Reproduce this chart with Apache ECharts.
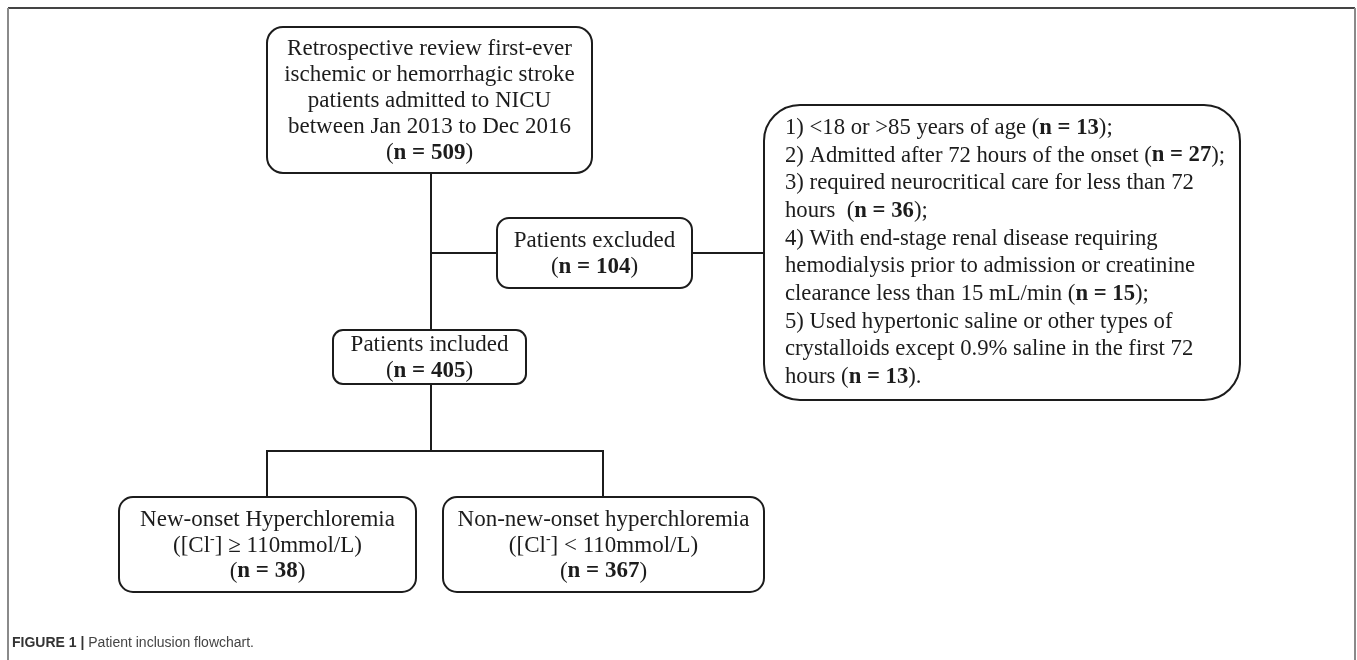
<!DOCTYPE html>
<html>
<head>
<meta charset="utf-8">
<script src="https://cdn.jsdelivr.net/npm/echarts@6/dist/echarts.min.js"></script>
<style>
  html, body { margin: 0; padding: 0; background: #fff; }
  #chart { width: 1357px; height: 660px; }
</style>
</head>
<body>
<div id="chart"></div>
<script>
// flowchart content
const stageLabels = [
  "Retrospective review first-ever\nischemic or hemorrhagic stroke\npatients admitted to NICU\nbetween Jan 2013 to Dec 2016",
  "Patients excluded",
  "Patients included",
  "New-onset Hyperchloremia\n([Cl{-}] \u2265 110mmol/L)",
  "Non-new-onset hyperchloremia\n([Cl{-}] < 110mmol/L)"
];
const stageCounts = [509, 104, 405, 38, 367];

const exclusionReasons = [
  "1) <18 or >85 years of age (#);",
  "2) Admitted after 72 hours of the onset (#);",
  "3) required neurocritical care for less than 72\nhours  (#);",
  "4) With end-stage renal disease requiring\nhemodialysis prior to admission or creatinine\nclearance less than 15 mL/min (#);",
  "5) Used hypertonic saline or other types of\ncrystalloids except 0.9% saline in the first 72\nhours (#)."
];
const exclusionCounts = [13, 27, 36, 15, 13];

const captionBold = "FIGURE 1 |";
const captionText = "Patient inclusion flowchart.";

// box layout: [x, y, w, h, radius]
const boxes = [
  [267, 27, 325, 146, 16],
  [497, 218, 195, 70, 12],
  [333, 330, 193, 54, 10],
  [119, 497, 297, 95, 14],
  [443, 497, 321, 95, 14]
];
const bigBox = [764, 105, 476, 295, 36];

const serif = "'Liberation Serif', 'Times New Roman', serif";
const ink = "#1c1c1c";

function esc(s) {
  return s.replace(/\{-\}/g, "\u0001");
}

function lineToRich(line) {
  // superscript minus
  const parts = line.split("\u0001");
  let out = "";
  parts.forEach((p, i) => {
    if (p) out += "{r|" + p + "}";
    if (i < parts.length - 1) out += "{sup|-}";
  });
  return out;
}

function stageRich(i) {
  const lines = esc(stageLabels[i]).split("\n").map(lineToRich);
  lines.push("{r|(}{b|n = " + stageCounts[i] + "}{r|)}");
  return lines.join("\n");
}

function reasonsRich() {
  const out = [];
  exclusionReasons.forEach((reason, k) => {
    reason.split("\n").forEach(line => {
      const parts = line.split("#");
      let s = "{r|" + parts[0] + "}";
      if (parts.length > 1) {
        s += "{b|n = " + exclusionCounts[k] + "}";
        if (parts[1]) s += "{r|" + parts[1] + "}";
      }
      out.push(s);
    });
  });
  return out.join("\n");
}

function richStyles(fs, lh) {
  return {
    r: { fontFamily: serif, fontSize: fs, lineHeight: lh, fill: ink },
    b: { fontFamily: serif, fontSize: fs, fontWeight: "bold", lineHeight: lh, fill: ink },
    sup: { fontFamily: serif, fontSize: 14, lineHeight: lh, fill: ink, verticalAlign: "top" }
  };
}

const elements = [];

// figure frame
elements.push({ type: "line", shape: { x1: 8, y1: 8, x2: 1355, y2: 8 }, style: { stroke: "#444", lineWidth: 2 } });
elements.push({ type: "line", shape: { x1: 8, y1: 8, x2: 8, y2: 660 }, style: { stroke: "#8a8a8a", lineWidth: 2 } });
elements.push({ type: "line", shape: { x1: 1355, y1: 8, x2: 1355, y2: 660 }, style: { stroke: "#8a8a8a", lineWidth: 2 } });

// connectors
const connectors = [
  [[431, 173], [431, 330]],
  [[431, 253], [497, 253]],
  [[692, 253], [764, 253]],
  [[431, 384], [431, 451]],
  [[267, 497], [267, 451], [603, 451], [603, 497]]
];
connectors.forEach(pts => {
  elements.push({ type: "polyline", shape: { points: pts }, style: { stroke: ink, lineWidth: 2, fill: null } });
});

// stage boxes
boxes.forEach((b, i) => {
  elements.push({
    type: "rect",
    shape: { x: b[0], y: b[1], width: b[2], height: b[3], r: b[4] },
    style: { fill: "#fff", stroke: ink, lineWidth: 2 }
  });
  elements.push({
    type: "text",
    x: b[0] + b[2] / 2,
    y: b[1] + b[3] / 2 + 1,
    style: {
      text: stageRich(i),
      align: "center",
      verticalAlign: "middle",
      rich: richStyles(23, 26)
    }
  });
});

// exclusion details box
elements.push({
  type: "rect",
  shape: { x: bigBox[0], y: bigBox[1], width: bigBox[2], height: bigBox[3], r: bigBox[4] },
  style: { fill: "#fff", stroke: ink, lineWidth: 2 }
});
elements.push({
  type: "text",
  x: 785,
  y: bigBox[1] + bigBox[3] / 2,
  style: {
    text: reasonsRich(),
    align: "left",
    verticalAlign: "middle",
    rich: richStyles(22.7, 27.7)
  }
});

// caption
elements.push({
  type: "text",
  x: 12,
  y: 643,
  style: {
    text: "{fb|" + captionBold + "}{fr| " + captionText + "}",
    align: "left",
    verticalAlign: "middle",
    rich: {
      fb: { fontFamily: "'Liberation Sans', Arial, sans-serif", fontSize: 14, fontWeight: "bold", fill: "#333" },
      fr: { fontFamily: "'Liberation Sans', Arial, sans-serif", fontSize: 14, fill: "#444" }
    }
  }
});

const chart = echarts.init(document.getElementById("chart"), null, { renderer: "canvas" });
chart.setOption({
  backgroundColor: "#fff",
  animation: false,
  graphic: { elements: elements }
});
</script>
</body>
</html>
